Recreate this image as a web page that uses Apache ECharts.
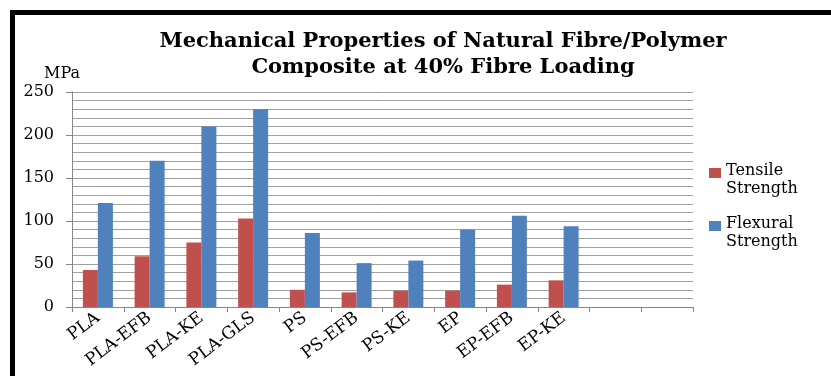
<!DOCTYPE html>
<html>
<head>
<meta charset="utf-8">
<script src="https://cdn.jsdelivr.net/npm/echarts@6/dist/echarts.min.js"></script>
<style>
html,body{margin:0;padding:0;background:#fff;}
#c{width:831px;height:376px;}
</style>
</head>
<body>
<div id="c"></div>
<script>
const categories = ['PLA','PLA-EFB','PLA-KE','PLA-GLS','PS','PS-EFB','PS-KE','EP','EP-EFB','EP-KE','',' '];
const tensile = [43, 59, 75, 103, 20, 17, 19, 19, 26, 31, null, null];
const flexural = [121, 170, 210, 230, 86, 51, 54, 90, 106, 94, null, null];
const seriesNames = ['Tensile Strength', 'Flexural Strength'];
const titleLines = ['Mechanical Properties of Natural Fibre/Polymer', 'Composite at 40% Fibre Loading'];
const yTicks = {min: 0, max: 250, interval: 50};

const serif = 'DejaVu Serif';
const chart = echarts.init(document.getElementById('c'), null, {renderer: 'canvas'});
chart.setOption({
  backgroundColor: '#fff',
  animation: false,
  title: {
    text: titleLines.join('\n'),
    left: 438, top: 24, textAlign: 'center',
    textStyle: {fontFamily: serif, fontWeight: 'bold', fontSize: 21, color: '#000', lineHeight: 26}
  },
  graphic: [
    {type: 'rect', left: 10, top: 10, shape: {width: 5, height: 366}, style: {fill: '#000'}},
    {type: 'rect', left: 10, top: 10, shape: {width: 821, height: 5}, style: {fill: '#000'}}
  ],
  legend: {
    orient: 'vertical', left: 709, top: 162, itemGap: 17, padding: 0,
    itemWidth: 12, itemHeight: 36, itemStyle: {borderWidth: 0},
    icon: 'path://M0,0h0.01v0.01h-0.01zM0,6h12v10h-12zM0,36h0.01v0.01h-0.01z',
    formatter: n => n.replace(' ', '\n'),
    textStyle: {fontFamily: serif, fontSize: 16, color: '#000', lineHeight: 18},
    data: seriesNames
  },
  grid: {left: 72, right: 138, top: 92, bottom: 69, containLabel: false},
  xAxis: {
    type: 'category', data: categories,
    axisLine: {lineStyle: {color: '#868686', width: 1}},
    axisTick: {show: true, alignWithLabel: false, length: 5, lineStyle: {color: '#868686'}},
    axisLabel: {interval: 0, rotate: 37, fontFamily: serif, fontSize: 17, color: '#000', margin: 9}
  },
  yAxis: {
    type: 'value', min: yTicks.min, max: yTicks.max, interval: yTicks.interval,
    name: 'MPa', nameLocation: 'end', nameGap: 10,
    nameTextStyle: {fontFamily: serif, fontSize: 16, color: '#000', align: 'center', padding: [0, 20, 0, 0]},
    axisLine: {show: true, lineStyle: {color: '#868686'}},
    axisTick: {show: true, length: 6, lineStyle: {color: '#868686'}},
    axisLabel: {fontFamily: serif, fontSize: 16, color: '#000', margin: 18},
    splitLine: {show: true, lineStyle: {color: '#a0a0a0', width: 1}},
    minorTick: {show: false, splitNumber: 5},
    minorSplitLine: {show: true, lineStyle: {color: '#a0a0a0', width: 1}}
  },
  series: [
    {name: seriesNames[0], type: 'bar', data: tensile, barWidth: 15, barGap: '0%', itemStyle: {color: '#C0504D'}},
    {name: seriesNames[1], type: 'bar', data: flexural, barWidth: 15, barGap: '0%', itemStyle: {color: '#4F81BD'}}
  ]
});
</script>
</body>
</html>
